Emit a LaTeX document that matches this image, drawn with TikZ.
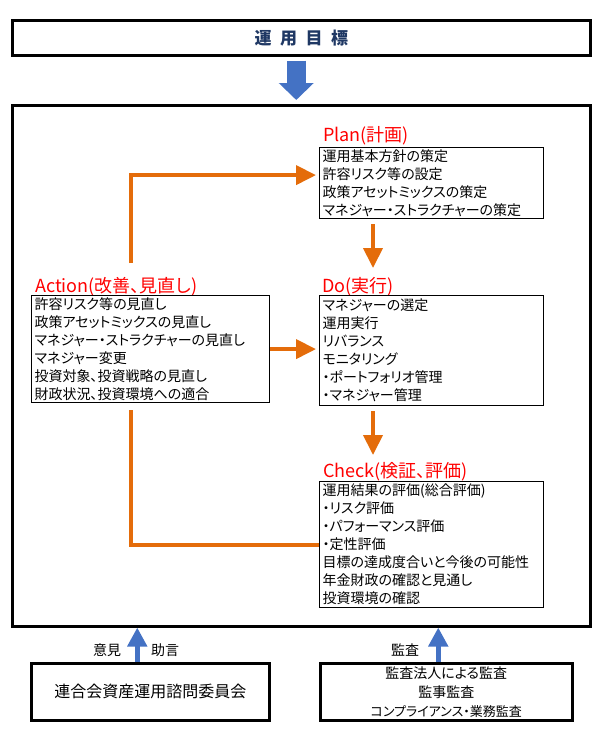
\documentclass[tikz,border=0pt]{standalone}
\usepackage{fontspec}
\setmainfont{Noto Sans CJK JP}[RawFeature=+palt]
\usetikzlibrary{arrows.meta}
\definecolor{orangeln}{RGB}{228,108,10}
\definecolor{bluearr}{RGB}{68,114,196}
\definecolor{goalblue}{RGB}{31,56,100}

\begin{document}
\begin{tikzpicture}[x=1pt, y=-1pt,
    frame/.style={draw, line width=2.5pt, anchor=north west, inner sep=0pt},
    stepbox/.style={draw, line width=1.2pt, anchor=north west, align=left,
        inner xsep=3pt, inner ysep=0pt, font=\fontsize{14}{18}\selectfont},
    steplbl/.style={text=red, anchor=base west, inner sep=0pt,
        font=\fontsize{18}{20}\selectfont},
    flowline/.style={draw=orangeln, line width=4pt},
    flowarrow/.style={flowline, -{Triangle[length=20pt,width=19pt]}},
    uparrow/.style={draw=bluearr, line width=5pt, -{Triangle[length=19pt,width=19pt]}},
    sidelbl/.style={font=\fontsize{14}{16}\selectfont}]
    \useasboundingbox (0,0) rectangle (602,739);

    \node[frame, minimum width=578pt, minimum height=35pt, text=goalblue,
        font=\bfseries\fontsize{17}{20}\selectfont] (goal) at (11,19)
        {運\enspace 用\enspace 目\enspace 標};
    \node[frame, minimum width=578pt, minimum height=521pt] (main) at (11,104) {};
    \draw[draw=bluearr, line width=19pt, -{Triangle[length=17pt,width=34pt]}]
        ([xshift=-5pt,yshift=-4pt]goal.south)
        -- ([xshift=-5pt,yshift=4pt]goal.south |- main.north);

    \node[steplbl] (planlbl) at (323,141) {Plan(計画)};
    \node[stepbox, text width=218pt, minimum height=71pt] (plan) at (319,147)
        {運用基本方針の策定\\許容リスク等の設定\\政策アセットミックスの策定\\マネジャー・ストラクチャーの策定};
    \node[steplbl] (dolbl) at (322,292) {Do(実行)};
    \node[stepbox, text width=218pt, minimum height=110pt] (do) at (319,295)
        {マネジャーの選定\\運用実行\\リバランス\\モニタリング\\・ポートフォリオ管理\\・マネジャー管理};
    \node[steplbl] (checklbl) at (323,477) {Check(検証、評価)};
    \node[stepbox, text width=218pt, minimum height=126pt] (check) at (319,481)
        {運用結果の評価(総合評価)\\・リスク評価\\・パフォーマンス評価\\・定性評価\\目標の達成度合いと今後の可能性\\年金財政の確認と見通し\\投資環境の確認};
    \node[steplbl] (actlbl) at (35,292) {Action(改善、見直し)};
    \node[stepbox, text width=232pt, minimum height=107pt] (action) at (31,295)
        {許容リスク等の見直し\\政策アセットミックスの見直し\\マネジャー・ストラクチャーの見直し\\マネジャー変更\\投資対象、投資戦略の見直し\\財政状況、投資環境への適合};

    \coordinate (actup) at (131,263);
    \coordinate (actdown) at (131,410);
    \draw[flowarrow, shorten >=3pt] (actup) |- ([yshift=8pt]plan.west);
    \draw[flowarrow, shorten >=3pt] (action.east) -- (action.east -| do.west);
    \draw[flowline] (check.west) -| (actdown);
    \draw[flowarrow] ([xshift=54pt,yshift=-5pt]plan.south west)
        -- ([xshift=54pt,yshift=24pt]plan.south west |- dolbl.base);
    \draw[flowarrow] ([xshift=54pt,yshift=-5pt]do.south west)
        -- ([xshift=54pt,yshift=22pt]do.south west |- checklbl.base);

    \node[frame, minimum width=238pt, minimum height=57pt,
        font=\fontsize{16}{19}\selectfont] (advice) at (30,662) {連合会資産運用諮問委員会};
    \node[frame, minimum width=252pt, minimum height=57pt, align=center,
        font=\fontsize{14}{19}\selectfont] (audit) at (319,662)
        {監査法人による監査\\監事監査\\{\fontsize{13}{19}\selectfont コンプライアンス・業務監査}};
    \draw[uparrow] ([xshift=-13pt]advice.north) -- ([xshift=-13pt]advice.north |- main.south);
    \draw[uparrow] ([xshift=-8pt]audit.north) -- ([xshift=-8pt]audit.north |- main.south);
    \node[sidelbl] (iken) at (107,650) {意見};
    \node[sidelbl] (jogen) at (165,650) {助言};
    \node[sidelbl] (kansa) at (405,650) {監査};
\end{tikzpicture}
\end{document}
